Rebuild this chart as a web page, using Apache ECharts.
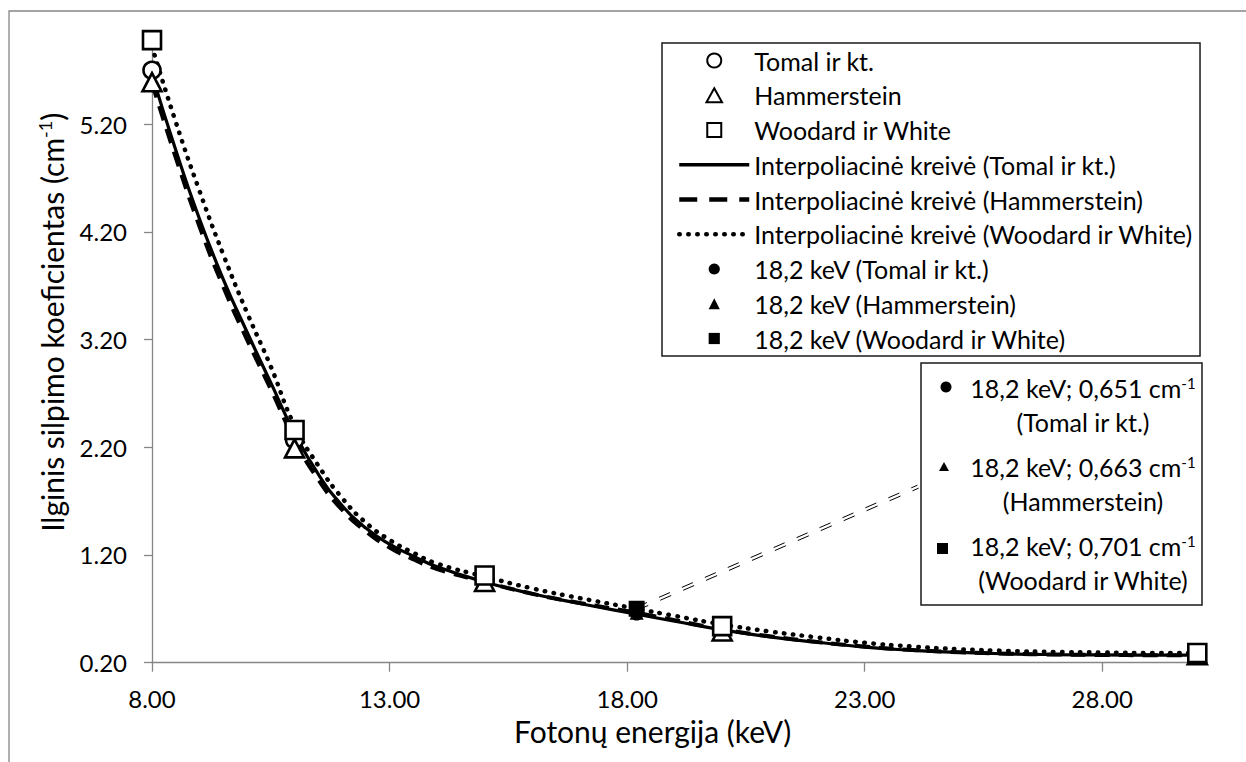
<!DOCTYPE html>
<html>
<head>
<meta charset="utf-8">
<script src="https://cdn.jsdelivr.net/npm/echarts@6/dist/echarts.min.js"></script>
<style>
  html, body { margin: 0; padding: 0; background: #fff; }
  #chart { width: 1246px; height: 762px; }
</style>
</head>
<body>
<div id="chart"></div>
<script>
// Measured attenuation coefficients (cm^-1) at the photon energies (keV)
const energies = [8, 11, 15, 20, 30];
const tomal = [5.70, 2.27, 0.97, 0.50, 0.27];
const hammerstein = [5.59, 2.19, 0.95, 0.49, 0.27];
const woodard = [5.98, 2.36, 1.01, 0.54, 0.29];

// Interpolation curves
const curveX = [8, 8.5, 9, 9.5, 10, 10.5, 11, 11.5, 12, 12.5, 13, 13.5, 14, 15, 16, 17, 18.2, 19, 20, 21, 22, 23, 24, 25, 26, 27, 28, 29, 30];
const curveTomal = [5.66, 4.96, 4.32, 3.76, 3.27, 2.80, 2.33, 1.95, 1.66, 1.45, 1.30, 1.19, 1.09, 0.95, 0.84, 0.75, 0.651, 0.585, 0.505, 0.44, 0.39, 0.345, 0.315, 0.295, 0.282, 0.275, 0.272, 0.27, 0.27];
const curveHammerstein = [5.58, 4.89, 4.25, 3.69, 3.20, 2.74, 2.27, 1.90, 1.62, 1.42, 1.27, 1.16, 1.07, 0.95, 0.84, 0.755, 0.663, 0.595, 0.51, 0.445, 0.393, 0.35, 0.318, 0.297, 0.284, 0.276, 0.272, 0.27, 0.27];
const curveWoodard = [5.92, 5.22, 4.58, 3.99, 3.45, 2.95, 2.40, 2.03, 1.73, 1.50, 1.34, 1.22, 1.12, 1.00, 0.89, 0.80, 0.701, 0.635, 0.555, 0.49, 0.435, 0.385, 0.35, 0.325, 0.31, 0.30, 0.295, 0.29, 0.29];

// Values at 18.2 keV
const pointEnergy = 18.2;
const pointValues = [0.651, 0.663, 0.701];

// Axis ticks
const xTicks = [8, 13, 18, 23, 28];
const yTicks = [0.2, 1.2, 2.2, 3.2, 4.2, 5.2];

const sources = ['Tomal ir kt.', 'Hammerstein', 'Woodard ir White'];
const curveNames = sources.map(s => 'Interpoliacinė kreivė (' + s + ')');
const pointNames = sources.map(s => comma(pointEnergy) + ' keV (' + s + ')');

function comma(v) { return String(v).replace('.', ','); }
function pairs(xs, ys) { return xs.map((x, i) => [x, ys[i]]); }

const FONT = 'Lato';
const AXIS_GRAY = '#868686';
const BLACK = '#000';
const TEXT_SIZE = 25;

const chart = echarts.init(document.getElementById('chart'), null, { renderer: 'svg' });

const markerStyle = { color: '#fff', borderColor: BLACK, borderWidth: 2.6, opacity: 1 };
const solid = { color: BLACK, width: 3.2 };
const dashed = { color: BLACK, width: 4, type: [15, 9] };
const dotted = { color: BLACK, width: 4.5, type: [0.5, 8.5], cap: 'round' };

// Legend keys that keep their proportions
const ICON_TRIANGLE = 'path://M5,0L10,9L0,9Z';
const ICON_SQUARE = 'path://M0,0L10,0L10,10L0,10Z';

const option = {
  animation: false,
  backgroundColor: '#fff',
  grid: { left: 152, right: 48.7, top: 38, bottom: 99.3 },
  xAxis: {
    type: 'value', min: 8, max: 30,
    name: 'Fotonų energija (keV)', nameLocation: 'middle', nameGap: 45,
    nameTextStyle: { fontFamily: FONT, fontSize: 30, color: BLACK, padding: [0, 44, 0, 0] },
    axisLine: { onZero: false, lineStyle: { color: AXIS_GRAY, width: 1.3 } },
    axisTick: { customValues: xTicks, length: 9, lineStyle: { color: AXIS_GRAY, width: 1.3 } },
    axisLabel: { customValues: xTicks, formatter: v => v.toFixed(2), margin: 24,
      fontFamily: FONT, fontSize: 24, color: BLACK },
    splitLine: { show: false }
  },
  yAxis: {
    type: 'value', min: 0.2, max: 6.0,
    name: 'Ilginis silpimo koeficientas (cm{sup|-1})', nameLocation: 'middle', nameGap: 84,
    nameTextStyle: { fontFamily: FONT, fontSize: 30, color: BLACK, lineHeight: 32, padding: [0, 0, 0, 56],
      rich: { sup: { fontFamily: FONT, fontSize: 18, color: BLACK, lineHeight: 18, verticalAlign: 'top' } } },
    axisLine: { show: true, lineStyle: { color: AXIS_GRAY, width: 1.3 } },
    axisTick: { show: true, customValues: yTicks, length: 8, lineStyle: { color: AXIS_GRAY, width: 1.3 } },
    axisLabel: { customValues: yTicks, formatter: v => v.toFixed(2), margin: 25,
      fontFamily: FONT, fontSize: 24, color: BLACK },
    splitLine: { show: false }
  },
  legend: {
    orient: 'vertical', left: 662, top: 43,
    padding: [5, 7, 5, 15],
    itemWidth: 70, itemHeight: 14, itemGap: 9.75,
    symbolKeepAspect: true,
    borderColor: '#1a1a1a', borderWidth: 1.5,
    textStyle: { fontFamily: FONT, fontSize: TEXT_SIZE, color: BLACK, lineHeight: 24 },
    data: [
      sources[0],
      { name: sources[1], icon: ICON_TRIANGLE },
      { name: sources[2], icon: ICON_SQUARE },
      { name: curveNames[0], itemStyle: { opacity: 0 }, lineStyle: { color: BLACK, width: 3.5 } },
      { name: curveNames[1], itemStyle: { opacity: 0 }, lineStyle: { color: BLACK, width: 4.5, type: [18, 12] } },
      { name: curveNames[2], itemStyle: { opacity: 0 }, lineStyle: dotted },
      pointNames[0], pointNames[1], pointNames[2]
    ]
  },
  series: [
    { name: curveNames[0], type: 'line', data: pairs(curveX, curveTomal), symbol: 'none', smooth: true, z: 2,
      lineStyle: solid, itemStyle: { color: BLACK } },
    { name: curveNames[1], type: 'line', data: pairs(curveX, curveHammerstein), symbol: 'none', smooth: true, z: 2,
      lineStyle: dashed, itemStyle: { color: BLACK } },
    { name: curveNames[2], type: 'line', data: pairs(curveX, curveWoodard), symbol: 'none', smooth: true, z: 2,
      lineStyle: dotted, itemStyle: { color: BLACK } },
    { name: sources[0], type: 'scatter', data: pairs(energies, tomal), symbol: 'circle', symbolSize: 17, z: 3, itemStyle: markerStyle },
    { name: sources[1], type: 'scatter', data: pairs(energies, hammerstein), symbol: 'triangle', symbolSize: [19, 18], z: 3, itemStyle: markerStyle },
    { name: sources[2], type: 'scatter', data: pairs(energies, woodard), symbol: 'rect', symbolSize: 18, z: 3, itemStyle: markerStyle },
    { name: pointNames[0], type: 'line', data: [[pointEnergy, pointValues[0]]], symbol: 'circle', symbolSize: 13, z: 4,
      itemStyle: { color: BLACK, opacity: 1 }, lineStyle: { opacity: 0 } },
    { name: pointNames[1], type: 'line', data: [[pointEnergy, pointValues[1]]], symbol: 'triangle', symbolSize: 14, z: 4,
      itemStyle: { color: BLACK, opacity: 1 }, lineStyle: { opacity: 0 } },
    { name: pointNames[2], type: 'line', data: [[pointEnergy, pointValues[2]]], symbol: 'rect', symbolSize: 16, z: 4,
      itemStyle: { color: BLACK, opacity: 1 }, lineStyle: { opacity: 0 } }
  ]
};
chart.setOption(option);

// Annotation box with the 18.2 keV values, its leader line and the outer frame
const box = { x: 921, y: 363, w: 281, h: 242 };
const rowTop = [388, 467, 546];
const rowGap = 33.5;
const textX = 1083;
const keyX = 944;
const sup = { sup: { fontFamily: FONT, fontSize: 15, fill: BLACK, lineHeight: 14, verticalAlign: 'top' } };

const graphics = [
  { id: 'frame', type: 'rect', z: 0, silent: true,
    shape: { x: 9, y: 11, width: 1400, height: 900 },
    style: { fill: 'none', stroke: AXIS_GRAY, lineWidth: 1.3 } },
  { id: 'box', type: 'rect', z: 0, silent: true,
    shape: { x: box.x, y: box.y, width: box.w, height: box.h },
    style: { fill: '#fff', stroke: '#1a1a1a', lineWidth: 1.5 } }
];
pointValues.forEach((v, i) => {
  graphics.push({ id: 'val' + i, type: 'text', z: 1, silent: true,
    style: { x: textX, y: rowTop[i], text: comma(pointEnergy) + ' keV; ' + v.toFixed(3).replace('.', ',') + ' cm{sup|-1}',
      fontFamily: FONT, fontSize: TEXT_SIZE, fill: BLACK, align: 'center', verticalAlign: 'middle', lineHeight: 26, rich: sup } });
  graphics.push({ id: 'src' + i, type: 'text', z: 1, silent: true,
    style: { x: textX, y: rowTop[i] + rowGap, text: '(' + sources[i] + ')',
      fontFamily: FONT, fontSize: TEXT_SIZE, fill: BLACK, align: 'center', verticalAlign: 'middle' } });
});
graphics.push({ id: 'k0', type: 'circle', z: 1, silent: true, shape: { cx: keyX + 2, cy: rowTop[0] - 1, r: 5.5 }, style: { fill: BLACK } });
graphics.push({ id: 'k1', type: 'polygon', z: 1, silent: true,
  shape: { points: [[keyX, rowTop[1] - 5], [keyX + 5, rowTop[1] + 4], [keyX - 5, rowTop[1] + 4]] }, style: { fill: BLACK } });
graphics.push({ id: 'k2', type: 'rect', z: 1, silent: true, shape: { x: keyX - 7, y: rowTop[2] - 3, width: 11, height: 11 }, style: { fill: BLACK } });

// Double dashed leader from the 18.2 keV point to the box
const p0 = chart.convertToPixel({ gridIndex: 0 }, [pointEnergy, pointValues[2]]);
const p1 = [box.x - 3, 486.7];
const dx = p1[0] - p0[0], dy = p1[1] - p0[1];
const len = Math.sqrt(dx * dx + dy * dy);
const nx = -dy / len * 1.6, ny = dx / len * 1.6;
[-1, 1].forEach((s, i) => {
  graphics.push({ id: 'lead' + i, type: 'line', z: 0, silent: true,
    shape: { x1: p0[0] + s * nx, y1: p0[1] + s * ny, x2: p1[0] + s * nx, y2: p1[1] + s * ny },
    style: { stroke: BLACK, lineWidth: 1, lineDash: [12, 13] } });
});

chart.setOption({ graphic: graphics });
</script>
</body>
</html>
